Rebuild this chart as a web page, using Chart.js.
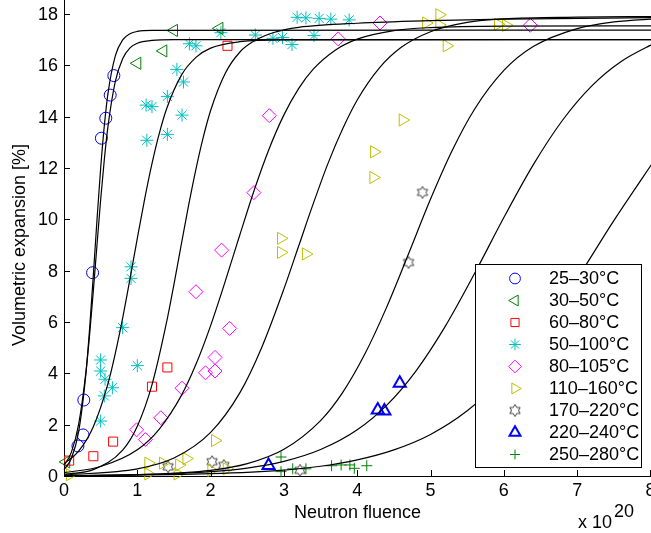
<!DOCTYPE html>
<html>
<head>
<meta charset="utf-8">
<script src="https://cdn.jsdelivr.net/npm/chart.js@4.4.1/dist/chart.umd.min.js"></script>
<style>
  html, body { margin: 0; padding: 0; background: #fff; }
  #wrap { width: 651px; height: 533px; }
</style>
</head>
<body>
<div id="wrap"><canvas id="chart" width="651" height="533"></canvas></div>
<script>
// tick labels
const xTicks = [0, 1, 2, 3, 4, 5, 6, 7, 8];
const yTicks = [0, 2, 4, 6, 8, 10, 12, 14, 16, 18];

// categories (legend)
const seriesLabels = ['25–30°C', '30–50°C', '60–80°C', '50–100°C', '80–105°C',
                      '110–160°C', '170–220°C', '220–240°C', '250–280°C'];

// measured points [fluence x1e20, expansion %]
const t25 = [[0.19,1.17],[0.26,1.6],[0.27,2.96],[0.39,7.92],[0.51,13.16],[0.57,13.94],[0.63,14.84],[0.68,15.6]];
const t30 = [[0.03,0.55],[1.0,16.08],[1.355,16.56],[1.5,17.36],[2.12,17.44]];
const t60 = [[0.07,0.6],[0.4,0.77],[0.67,1.34],[1.2,3.48],[1.41,4.23],[2.23,16.76]];
const t50 = [[0.5,2.14],[0.55,3.12],[0.66,3.44],[0.56,3.77],[0.5,4.09],[0.5,4.52],[1.0,4.3],[0.8,5.78],
             [0.914,7.7],[0.914,8.15],[1.13,13.08],[1.41,13.31],[1.12,14.45],[1.2,14.39],[1.61,14.06],
             [1.41,14.79],[1.63,15.35],[1.54,15.84],[1.71,16.84],[1.8,16.76],[2.14,17.27],[2.61,17.18],
             [2.85,17.05],[2.98,17.08],[3.11,16.81],[3.41,17.16],[3.18,17.87],[3.3,17.85],[3.48,17.83],
             [3.64,17.8],[3.89,17.77]];
const t80 = [[0.99,1.8],[1.11,1.42],[1.32,2.27],[1.61,3.42],[1.93,4.02],[2.06,4.09],[2.06,4.62],[2.26,5.75],
             [1.8,7.18],[2.15,8.8],[2.59,11.04],[2.8,14.04],[3.74,17.03],[4.31,17.65],[6.36,17.56]];
const t110 = [[0.08,0.05],[1.15,0.5],[1.35,0.5],[1.15,0.08],[1.55,0.08],[1.57,0.43],[1.67,0.68],[2.06,1.38],
              [2.01,0.22],[2.22,0.28],[2.96,9.26],[2.96,8.71],[3.3,8.65],[4.22,11.63],[4.23,12.63],[4.62,13.87],
              [4.94,17.65],[5.12,17.97],[5.12,17.57],[5.22,16.76],[5.92,17.6],[6.03,17.56]];
const t170 = [[1.42,0.36],[2.02,0.56],[2.18,0.41],[3.22,0.22],[4.7,8.32],[4.89,11.05]];
const t220 = [[2.79,0.41],[4.28,2.57],[4.37,2.53],[4.58,3.61]];
const t250 = [[2.96,0.74],[2.96,0.17],[3.12,0.28],[3.3,0.28],[3.65,0.4],[3.78,0.43],[3.9,0.43],[3.96,0.3],[4.13,0.4]];

// fitted curves
const fitA = [[0,0.25],[0.1,0.68],[0.2,1.73],[0.3,4.02],[0.35,5.77],[0.4,7.82],[0.45,9.98],[0.5,11.99],[0.55,13.65],
              [0.6,14.91],[0.7,16.37],[0.8,16.99],[0.9,17.23],[1.0,17.32],[1.2,17.36],[8.1,17.37]];
const fitB = [[0,0.41],[0.1,0.92],[0.2,2.02],[0.3,4.07],[0.35,5.52],[0.4,7.21],[0.45,9.0],[0.5,10.76],[0.55,12.33],
              [0.6,13.62],[0.7,15.37],[0.8,16.26],[0.9,16.68],[1.0,16.86],[1.2,16.97],[1.5,17.0],[8.1,17.0]];
const fitC = [[0,0.48],[0.2,0.97],[0.4,1.92],[0.6,3.6],[0.7,4.78],[0.8,6.15],[0.9,7.68],[1.0,9.26],[1.1,10.79],
              [1.2,12.17],[1.3,13.35],[1.4,14.31],[1.6,15.61],[1.8,16.31],[2.0,16.67],[2.4,16.92],[3.0,16.99],[8.1,17.0]];
const fitD = [[0,0.06],[0.4,0.25],[0.8,1.01],[1.0,1.94],[1.2,3.55],[1.4,6.0],[1.5,7.47],[1.6,9.02],[1.7,10.55],
              [1.8,11.96],[1.9,13.2],[2.0,14.24],[2.2,15.69],[2.4,16.52],[2.6,16.96],[2.8,17.22],[3.0,17.38],
              [3.2,17.48],[4.0,17.64],[5.0,17.74],[6.0,17.8],[8.1,17.86]];
const fitE = [[0,0.13],[0.5,0.37],[1.0,1.02],[1.3,1.83],[1.6,3.13],[1.8,4.35],[2.0,5.86],[2.2,7.59],[2.4,9.41],
              [2.6,11.18],[2.8,12.76],[3.0,14.07],[3.2,15.09],[3.4,15.85],[3.7,16.59],[4.0,17.02],[4.5,17.35],
              [5.0,17.47],[6.0,17.53],[8.1,17.54]];
const fitF = [[0,0.04],[1.0,0.28],[1.5,0.7],[2.0,1.7],[2.4,3.25],[2.7,5.03],[3.0,7.29],[3.2,8.95],[3.4,10.61],
              [3.6,12.17],[3.8,13.52],[4.0,14.65],[4.3,15.89],[4.6,16.7],[5.0,17.31],[5.5,17.67],[6.0,17.81],
              [7.0,17.88],[8.1,17.9]];
const fitG = [[0,0.01],[1,0.05],[2,0.22],[2.5,0.48],[3.0,1.04],[3.5,2.16],[3.8,3.25],[4.1,4.73],[4.4,6.57],
              [4.7,8.66],[5.0,10.79],[5.3,12.71],[5.6,14.29],[6.0,15.8],[6.4,16.73],[7.0,17.43],[7.5,17.69],[8.1,17.82]];
const fitH = [[0,0.02],[1,0.05],[2,0.17],[2.5,0.31],[3.0,0.57],[3.5,1.03],[4.0,1.8],[4.4,2.75],[4.8,4.09],
              [5.2,5.83],[5.6,7.89],[6.0,10.07],[6.4,12.12],[6.8,13.86],[7.2,15.2],[7.6,16.15],[8.1,16.93]];
const fitI = [[0,0.01],[2,0.09],[3,0.23],[3.5,0.38],[4,0.63],[4.5,1.02],[5,1.62],[5.5,2.54],[6,3.85],
              [6.5,5.59],[7,7.69],[7.5,9.95],[8.1,12.5]];

const FONT = "'Liberation Sans', Arial, Helvetica, sans-serif";
const FS = 18;
const toXY = arr => arr.map(p => ({x: p[0], y: p[1]}));

// MATLAB style hexagram marker
function hexagram(color, r) {
  const c = document.createElement('canvas');
  const s = Math.ceil(r * 2 + 4);
  c.width = s; c.height = s;
  const g = c.getContext('2d');
  g.strokeStyle = color; g.lineWidth = 1;
  g.beginPath();
  for (let i = 0; i < 12; i++) {
    const a = -Math.PI / 2 + i * Math.PI / 6;
    const rr = i % 2 ? r / Math.sqrt(3) : r;
    g.lineTo(s / 2 + rr * Math.cos(a), s / 2 + rr * Math.sin(a));
  }
  g.closePath(); g.stroke();
  return c;
}

const markers = [
  {data: t25,  color: '#0000FF', style: 'circle',   rot: 0,   r: 6,   w: 1},
  {data: t30,  color: '#008000', style: 'triangle', rot: -90, r: 7,   w: 1},
  {data: t60,  color: '#FF0000', style: 'rect',     rot: 0,   r: 6.4, w: 1},
  {data: t50,  color: '#00BFBF', style: 'star',     rot: 0,   r: 6.5, w: 1},
  {data: t80,  color: '#FF00FF', style: 'rectRot',  rot: 0,   r: 7,   w: 1},
  {data: t110, color: '#BFBF00', style: 'triangle', rot: 90,  r: 7,   w: 1},
  {data: t170, color: '#404040', style: hexagram('#404040', 6), rot: 0, r: 6, w: 1},
  {data: t220, color: '#0000FF', style: 'triangle', rot: 0,   r: 7,   w: 2},
  {data: t250, color: '#008000', style: 'cross',    rot: 0,   r: 5.5, w: 1}
];

const fits = [fitA, fitB, fitC, fitD, fitE, fitF, fitG, fitH, fitI];

const datasets = [];
markers.forEach((m, i) => {
  datasets.push({
    label: seriesLabels[i],
    data: toXY(m.data),
    showLine: false,
    pointStyle: m.style,
    rotation: m.rot,
    pointRadius: m.r,
    pointHoverRadius: m.r,
    borderColor: m.color,
    backgroundColor: 'rgba(0,0,0,0)',
    pointBorderWidth: m.w,
    clip: false,
    order: 1
  });
});
fits.forEach(f => {
  datasets.push({
    type: 'line',
    label: '',
    data: toXY(f),
    borderColor: '#000',
    borderWidth: 1.2,
    pointRadius: 0,
    fill: false,
    cubicInterpolationMode: 'monotone',
    clip: false,
    order: 0
  });
});

const extras = {
  id: 'extras',
  afterDraw(chart) {
    const ctx = chart.ctx, xs = chart.scales.x, ys = chart.scales.y;
    ctx.save();
    // inward tick marks
    ctx.strokeStyle = '#000';
    ctx.lineWidth = 1;
    ctx.beginPath();
    xTicks.forEach(v => {
      const p = Math.round(xs.getPixelForValue(v)) + 0.5;
      ctx.moveTo(p, ys.bottom); ctx.lineTo(p, ys.bottom - 6);
    });
    yTicks.forEach(v => {
      const p = Math.round(ys.getPixelForValue(v)) + 0.5;
      ctx.moveTo(xs.left, p); ctx.lineTo(xs.left + 6, p);
    });
    ctx.stroke();

    // tick labels
    ctx.fillStyle = '#000';
    ctx.font = FS + 'px ' + FONT;
    ctx.textAlign = 'center';
    ctx.textBaseline = 'top';
    xTicks.forEach(v => ctx.fillText(String(v), xs.getPixelForValue(v), ys.bottom + 6));
    ctx.textAlign = 'right';
    ctx.textBaseline = 'middle';
    yTicks.forEach(v => ctx.fillText(String(v), xs.left - 6, ys.getPixelForValue(v) + 1));

    // y title
    ctx.textAlign = 'center';
    ctx.translate(20, 245);
    ctx.rotate(-Math.PI / 2);
    ctx.fillText('Volumetric expansion [%]', 0, 0);
    ctx.setTransform(1, 0, 0, 1, 0, 0);

    // exponent
    ctx.textAlign = 'left';
    ctx.textBaseline = 'alphabetic';
    ctx.fillText('x 10', 578, 528);
    ctx.fillText('20', 614, 517);

    // legend
    const lx = 475.5, ly = 264.5, lw = 166, lh = 203;
    ctx.fillStyle = '#fff';
    ctx.fillRect(lx, ly, lw, lh);
    ctx.strokeStyle = '#000';
    ctx.lineWidth = 1;
    ctx.strokeRect(lx, ly, lw, lh);
    markers.forEach((m, i) => {
      const y = 278.5 + 22 * i;
      ctx.strokeStyle = m.color;
      ctx.fillStyle = 'rgba(0,0,0,0)';
      ctx.lineWidth = m.w;
      Chart.helpers.drawPoint(ctx, {pointStyle: m.style, rotation: m.rot, radius: m.r * 0.9, borderWidth: m.w}, 515, y);
      ctx.fillStyle = '#000';
      ctx.font = FS + 'px ' + FONT;
      ctx.textAlign = 'left';
      ctx.textBaseline = 'middle';
      ctx.fillText(seriesLabels[i], 549, y + 1);
    });
    ctx.restore();
  }
};

new Chart(document.getElementById('chart'), {
  type: 'scatter',
  data: {datasets: datasets},
  options: {
    responsive: false,
    animation: false,
    devicePixelRatio: 1,
    layout: {padding: 0, autoPadding: false},
    plugins: {legend: {display: false}, tooltip: {enabled: false}},
    scales: {
      x: {
        type: 'linear',
        min: 0,
        max: 8.007,
        grid: {display: false, drawTicks: false},
        border: {display: true, color: '#000', width: 1},
        ticks: {display: false, stepSize: 1, includeBounds: false},
        title: {display: true, text: 'Neutron fluence', color: '#000', font: {family: FONT, size: FS}, padding: {top: 0, bottom: 9}},
        afterFit(s) { s.height = 57; s.paddingLeft = 0; s.paddingRight = 0; }
      },
      y: {
        type: 'linear',
        min: 0,
        max: 18.545,
        grid: {display: false, drawTicks: false},
        border: {display: true, color: '#000', width: 1},
        ticks: {display: false, stepSize: 2, includeBounds: false},
        afterFit(s) { s.width = 64; s.paddingTop = 0; s.paddingBottom = 0; }
      }
    }
  },
  plugins: [extras]
});
</script>
</body>
</html>
